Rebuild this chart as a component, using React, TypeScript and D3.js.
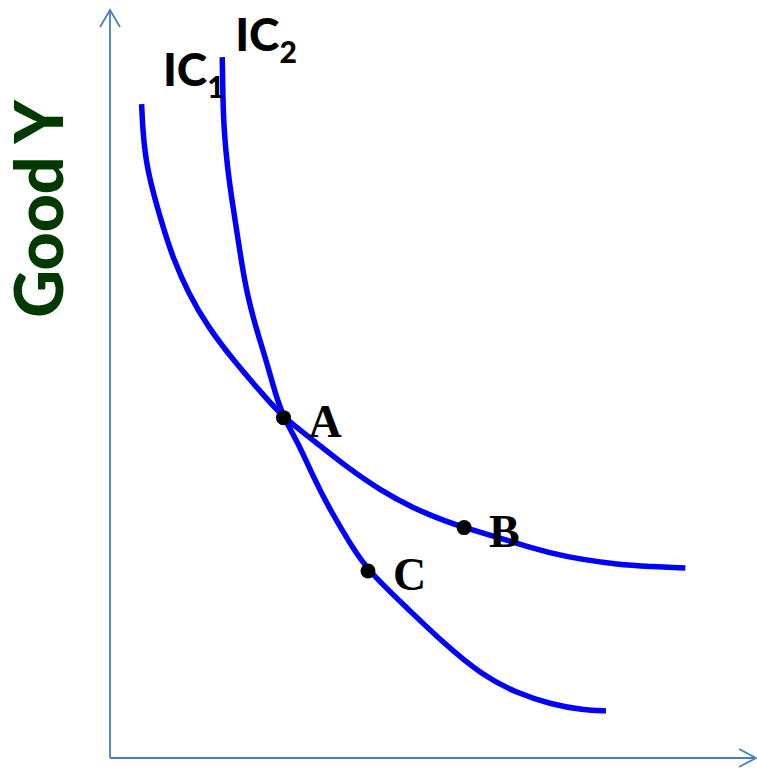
import React from "react";
import * as d3 from "d3";

const W = 757;
const H = 770;

// Indifference curve data (units on a 0–10 grid)
const ic1X = [0.49, 0.51, 0.57, 0.7, 0.85, 0.98, 1.21, 1.52, 1.91, 2.35, 2.69, 3.15, 3.67, 4.19, 4.7, 5.22, 5.49, 6.31, 6.82, 7.34, 7.86, 8.37, 8.92];
const ic1Y = [8.74, 8.36, 7.9, 7.46, 7.02, 6.68, 6.22, 5.76, 5.32, 4.88, 4.55, 4.25, 3.89, 3.58, 3.34, 3.16, 3.08, 2.87, 2.74, 2.65, 2.59, 2.56, 2.54];
const ic2X = [1.74, 1.75, 1.77, 1.82, 1.89, 1.97, 2.03, 2.12, 2.26, 2.42, 2.56, 2.69, 2.92, 3.15, 3.41, 3.72, 4.0, 4.65, 5.14, 5.79, 6.31, 6.82, 7.34, 7.69];
const ic2Y = [9.37, 8.8, 8.36, 7.9, 7.46, 7.02, 6.68, 6.22, 5.76, 5.32, 4.88, 4.55, 4.21, 3.76, 3.32, 2.87, 2.5, 1.97, 1.56, 1.09, 0.87, 0.72, 0.64, 0.63];

const pointNames = ["A", "B", "C"];
const pointX = [2.69, 5.49, 4.0];
const pointY = [4.55, 3.08, 2.5];

const curveLabels = [
  { base: "IC", sub: "1", x: 0.82, y: 8.98 },
  { base: "IC", sub: "2", x: 1.94, y: 9.45 },
];

export default function App() {
  const x = d3.scaleLinear().domain([0, 10]).range([110, 755]);
  const y = d3.scaleLinear().domain([0, 10]).range([758, 10]);
  const line = d3
    .line<[number, number]>()
    .x((d) => x(d[0]))
    .y((d) => y(d[1]))
    .curve(d3.curveBasis);

  const ic1 = ic1X.map((v, i) => [v, ic1Y[i]] as [number, number]);
  const ic2 = ic2X.map((v, i) => [v, ic2Y[i]] as [number, number]);

  const axisColor = "#4a7ebb";
  const x0 = x(0);
  const y0 = y(0);

  return (
    <svg
      width={W}
      height={H}
      style={{ position: "absolute", left: 0, top: 0, background: "#fff" }}
    >
      {/* axes */}
      <line x1={x0} y1={y0} x2={x0} y2={10} stroke={axisColor} strokeWidth={1.8} />
      <polyline
        points={`${x0 - 10},${27} ${x0},${10} ${x0 + 10},${27}`}
        fill="none"
        stroke={axisColor}
        strokeWidth={1.8}
      />
      <line x1={x0} y1={y0} x2={756} y2={y0} stroke={axisColor} strokeWidth={1.8} />
      <polyline
        points={`${739},${y0 - 9} ${756},${y0} ${739},${y0 + 9}`}
        fill="none"
        stroke={axisColor}
        strokeWidth={1.8}
      />

      {/* curves */}
      <path d={line(ic1) || ""} fill="none" stroke="#0000ff" strokeWidth={5.5} />
      <path d={line(ic2) || ""} fill="none" stroke="#0000ff" strokeWidth={5.5} />

      {/* points */}
      {pointNames.map((n, i) => (
        <g key={n}>
          <circle cx={x(pointX[i])} cy={y(pointY[i])} r={7.5} fill="#000" />
          <text
            x={x(pointX[i]) + 25}
            y={y(pointY[i]) + 19}
            fontFamily="'Liberation Serif', 'Times New Roman', serif"
            fontWeight="bold"
            fontSize={46}
            fill="#000"
          >
            {n}
          </text>
        </g>
      ))}

      {/* curve labels */}
      {curveLabels.map((l) => (
        <text
          key={l.sub}
          x={x(l.x)}
          y={y(l.y)}
          fontFamily="Lato, 'Open Sans', sans-serif"
          fontWeight="900"
          fontSize={46}
          fill="#000"
        >
          {l.base}
          <tspan fontSize={30} dy={12}>
            {l.sub}
          </tspan>
        </text>
      ))}

      {/* y axis title */}
      <text
        transform="translate(63,209) rotate(-90)"
        textAnchor="middle"
        fontFamily="Lato, 'Open Sans', sans-serif"
        fontWeight="900"
        fontSize={66}
        fill="#003a00"
      >
        Good Y
      </text>
    </svg>
  );
}
